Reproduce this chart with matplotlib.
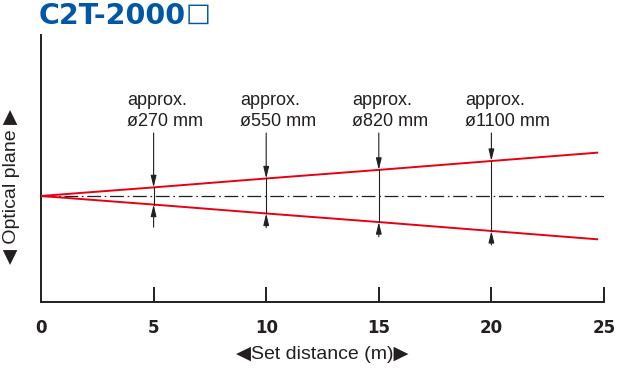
import matplotlib
matplotlib.use("Agg")
import matplotlib.pyplot as plt

# Data
distance_m = [0, 5, 10, 15, 20, 24.7]
half_width_mm = [0, 135, 275, 410, 550, 681]
marker_x = [5, 10, 15, 20]
marker_half = [135, 275, 410, 550]
marker_labels = ["approx.\nø270 mm", "approx.\nø550 mm", "approx.\nø820 mm", "approx.\nø1100 mm"]
marker_bottom = [-490, -500, -640, -770]
xticks = [0, 5, 10, 15, 20, 25]
title = "C2T-2000"

RED = "#e60012"
DARK = "#231f20"
BLUE = "#0057a6"
FONT = ["Liberation Sans", "DejaVu Sans"]

fig = plt.figure(figsize=(6.4, 3.73), dpi=100)
ax = fig.add_axes([41/640, 71/373, 563/640, 267/373])
ax.set_xlim(0, 25)
ax.set_ylim(-1667, 2531)

# center dash-dot line
ax.plot([0, 25], [0, 0], color=DARK, lw=0.9, linestyle=(0, (11, 3, 1.3, 3)), zorder=2)

# beam edges
ax.plot(distance_m, half_width_mm, color=RED, lw=1.4, zorder=3)
ax.plot(distance_m, [-v for v in half_width_mm], color=RED, lw=1.4, zorder=3)

aprops = dict(arrowstyle="-|>,head_length=0.7,head_width=0.17", color=DARK, lw=0.8,
              shrinkA=0, shrinkB=0, mutation_scale=10)
for x, h, lab, b in zip(marker_x, marker_half, marker_labels, marker_bottom):
    ax.annotate("", xy=(x, h), xytext=(x, 990), arrowprops=aprops, zorder=4)
    ax.annotate("", xy=(x, -h), xytext=(x, b), arrowprops=aprops, zorder=4)
    ax.plot([x, x], [h, -h], color=DARK, lw=0.8, zorder=4)
    ax.annotate(lab, xy=(x, 990), xytext=(-19, 2), textcoords="offset points",
                ha="left", va="bottom", fontsize=13, family=FONT, color=DARK,
                linespacing=1.3)

for s in ["top", "right"]:
    ax.spines[s].set_visible(False)
for s in ["left", "bottom"]:
    ax.spines[s].set_color(DARK)
    ax.spines[s].set_linewidth(1.4)

ax.set_yticks([])
ax.set_xticks(xticks)
ax.set_xticklabels([str(t) for t in xticks], fontsize=12, fontweight="bold",
                   family=["Liberation Sans Narrow", "DejaVu Sans"], color=DARK)
ax.tick_params(axis="x", direction="in", length=11, width=1.4, color=DARK, pad=12)
ax.xaxis.get_major_ticks()[0].tick1line.set_visible(False)

ax.set_xlabel("◀Set distance (m)▶", fontsize=14, family=FONT, color=DARK, labelpad=7)
fig.text(12/640, 1 - 186/373, "◀ Optical plane ▶", rotation=90, ha="center", va="center",
         fontsize=14, family=FONT, color=DARK)

t = fig.text(39/640, 1 - 24/373, title, ha="left", va="baseline", fontsize=20.5,
             fontweight="bold", color=BLUE, family=["DejaVu Sans"])
fig.canvas.draw()
bb = t.get_window_extent()
fig.text(bb.x1 / fig.bbox.width - 1/640, 1 - 21/373, "□", ha="left", va="baseline",
         fontsize=19, color=BLUE, family=["DejaVu Sans"])

fig.savefig("out.png", dpi=100)
